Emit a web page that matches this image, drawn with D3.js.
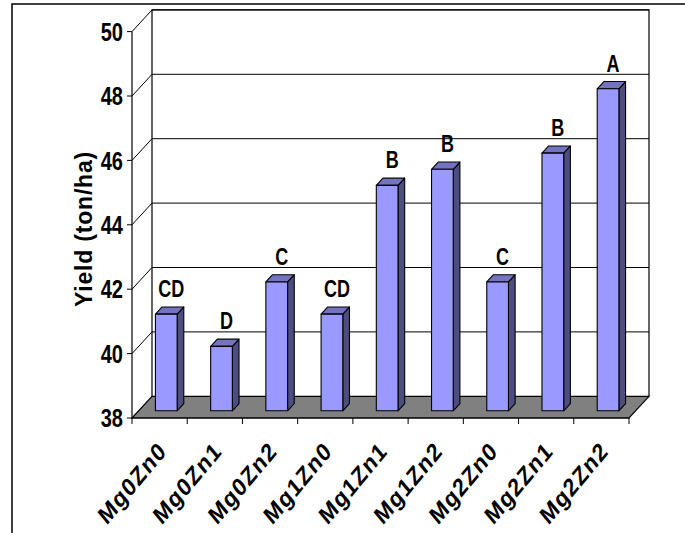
<!DOCTYPE html>
<html>
<head>
<meta charset="utf-8">
<script src="https://cdn.jsdelivr.net/npm/d3@7"></script>
<style>
  html, body { margin: 0; padding: 0; background: #fff; }
  svg text { font-family: "Liberation Sans", Arial, sans-serif; font-weight: bold; fill: #000; }
</style>
</head>
<body>
<svg id="chart" width="685" height="533"></svg>
<script>
// Yield per Mg x Zn treatment, with mean-separation letters
const categories = ["Mg0Zn0", "Mg0Zn1", "Mg0Zn2", "Mg1Zn0", "Mg1Zn1", "Mg1Zn2", "Mg2Zn0", "Mg2Zn1", "Mg2Zn2"];
const yieldValues = [41, 40, 42, 41, 45, 45.5, 42, 46, 48];
const groupLetters = ["CD", "D", "C", "CD", "B", "B", "C", "B", "A"];
const yTicks = [38, 40, 42, 44, 46, 48, 50];
const yTitle = "Yield (ton/ha)";

const svg = d3.select("#chart");

// front plane of the 3-D box
const x = d3.scaleBand().domain(categories).range([132, 629]).paddingInner(0).paddingOuter(0);
const y = d3.scaleLinear().domain([38, 50]).range([418, 31.6]);
// depth vector from front plane to back wall
const DX = 20, DY = -21.7;
const left = x.range()[0], right = x.range()[1];
const y0 = y(38), yTop = y(50);

// outer chart-area frame (top and left edges)
svg.append("path")
  .attr("d", `M12,533 L12,4 L685,4`)
  .attr("fill", "none").attr("stroke", "#000").attr("stroke-width", 1.5);

// back wall outline
svg.append("path")
  .attr("d", `M${left + DX},${y0 + DY} L${left + DX},${yTop + DY} L${right + DX},${yTop + DY} L${right + DX},${y0 + DY}`)
  .attr("fill", "none").attr("stroke", "#000").attr("stroke-width", 1.2);

// gridlines: back wall horizontals and side wall diagonals
const grid = svg.append("g").attr("stroke", "#000").attr("stroke-width", 1).attr("fill", "none");
yTicks.filter(t => t > 38).forEach(t => {
  grid.append("path")
    .attr("d", `M${left},${y(t)} L${left + DX},${y(t) + DY} L${right + DX},${y(t) + DY}`);
});

// floor
svg.append("path")
  .attr("d", `M${left},${y0} L${right},${y0} L${right + DX},${y0 + DY} L${left + DX},${y0 + DY} Z`)
  .attr("fill", "#808080").attr("stroke", "#000").attr("stroke-width", 1.2);

// bars as prisms sitting in the middle third of the depth
const f0 = 1 / 3, f1 = 2 / 3;
const bw = x.bandwidth() * 0.393;
const bars = svg.append("g");
categories.forEach((c, i) => {
  const v = yieldValues[i];
  const cx = x(c) + x.bandwidth() / 2;
  const xl = cx - bw / 2 + DX * f0, xr = cx + bw / 2 + DX * f0;
  const yb = y0 + DY * f0, yt = y(v) + DY * f0;
  const ddx = DX * (f1 - f0), ddy = DY * (f1 - f0);
  const g = bars.append("g").attr("stroke", "#000").attr("stroke-width", 1.1).attr("stroke-linejoin", "round");
  // side face
  g.append("path")
    .attr("d", `M${xr},${yb} L${xr + ddx},${yb + ddy} L${xr + ddx},${yt + ddy} L${xr},${yt} Z`)
    .attr("fill", "#4D4D80");
  // top face
  g.append("path")
    .attr("d", `M${xl},${yt} L${xr},${yt} L${xr + ddx},${yt + ddy} L${xl + ddx},${yt + ddy} Z`)
    .attr("fill", "#7373BF");
  // front face
  g.append("rect")
    .attr("x", xl).attr("y", yt).attr("width", bw).attr("height", yb - yt)
    .attr("fill", "#9999FF");
  // letter label above the bar
  svg.append("text")
    .attr("transform", `translate(${cx + DX * f0 + 5},${yt + ddy - 10}) scale(1,1.28)`)
    .attr("text-anchor", "middle")
    .style("font-size", "18px")
    .text(groupLetters[i]);
});

// value axis line and ticks
svg.append("line")
  .attr("x1", left).attr("x2", left).attr("y1", yTop).attr("y2", y0)
  .attr("stroke", "#000").attr("stroke-width", 1.2);
yTicks.forEach(t => {
  svg.append("line")
    .attr("x1", left - 5).attr("x2", left).attr("y1", y(t)).attr("y2", y(t))
    .attr("stroke", "#000").attr("stroke-width", 1);
  svg.append("text")
    .attr("transform", `translate(${left - 9},${y(t)}) scale(1,1.28)`)
    .attr("text-anchor", "end")
    .attr("dy", "0.36em")
    .style("font-size", "20px")
    .text(t);
});

// category axis line and ticks
svg.append("line")
  .attr("x1", left).attr("x2", right).attr("y1", y0).attr("y2", y0)
  .attr("stroke", "#000").attr("stroke-width", 1.2);
d3.range(categories.length + 1).forEach(i => {
  const xx = left + i * x.bandwidth();
  svg.append("line")
    .attr("x1", xx).attr("x2", xx).attr("y1", y0).attr("y2", y0 + 6)
    .attr("stroke", "#000").attr("stroke-width", 1);
});

// slanted category labels
categories.forEach(c => {
  const cx = x(c) + x.bandwidth() / 2;
  svg.append("text")
    .attr("transform", `translate(${cx + 3},${446}) scale(1,1.2) rotate(-45)`)
    .attr("text-anchor", "end")
    .attr("dy", "0.35em")
    .style("font-size", "21px")
    .style("letter-spacing", "1.2px")
    .text(c);
});

// value axis title
svg.append("text")
  .attr("transform", `translate(84,229) rotate(-90)`)
  .attr("text-anchor", "middle")
  .attr("dy", "0.35em")
  .style("font-size", "23px")
  .style("letter-spacing", "0.8px")
  .text(yTitle);
</script>
</body>
</html>
